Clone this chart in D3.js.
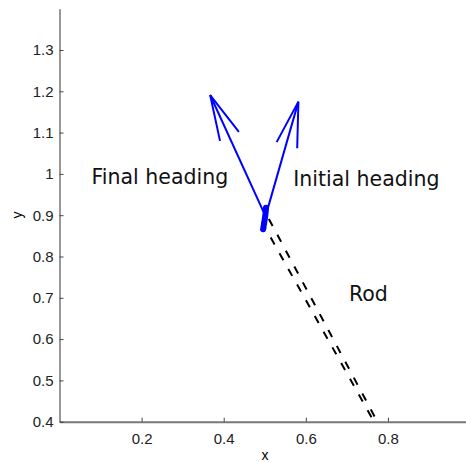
<!DOCTYPE html>
<html>
<head>
<meta charset="utf-8">
<script src="https://cdn.jsdelivr.net/npm/d3@7"></script>
<style>
  body { margin: 0; background: #fff; }
  svg { display: block; }
  .tick text { font-family: "Liberation Sans", Arial, sans-serif; font-size: 15px; fill: #222; }
  .note { font-family: "DejaVu Sans", sans-serif; font-size: 20.5px; fill: #111; }
</style>
</head>
<body>
<svg width="466" height="462"></svg>
<script>
// rod edges (two dashed lines), in data units
var rodLeft = [[0.493, 0.884], [0.768, 0.397]];
var rodRight = [[0.510, 0.891], [0.776, 0.397]];

// trace of the rod tip
var tipTrace = [[0.503, 0.918], [0.502, 0.905], [0.500, 0.890], [0.497, 0.872], [0.496, 0.866]];

// heading arrows: shaft then barbs
var finalShaft = [[0.497, 0.908], [0.367, 1.191]];
var finalBarbs = [[0.391, 1.080], [0.367, 1.191], [0.437, 1.102]];
var initialShaft = [[0.505, 0.908], [0.582, 1.175]];
var initialBarbs = [[0.529, 1.077], [0.582, 1.175], [0.579, 1.062]];

var notes = [
  { text: "Final heading", x: 0.078, y: 0.9755 },
  { text: "Initial heading", x: 0.5696, y: 0.9707 },
  { text: "Rod", x: 0.705, y: 0.693 }
];

var xTicks = [0.2, 0.4, 0.6, 0.8];
var yTicks = [0.4, 0.5, 0.6, 0.7, 0.8, 0.9, 1, 1.1, 1.2, 1.3];

var svg = d3.select("svg");

var x = d3.scaleLinear().domain([0, 1]).range([59.5, 470]);
var y = d3.scaleLinear().domain([0.4, 1.4]).range([421.7, 8.7]);

var line = d3.line().x(function(d) { return x(d[0]) }).y(function(d) { return y(d[1]) });

svg.append("clipPath").attr("id", "plot")
  .append("rect")
  .attr("x", x(0)).attr("y", y(1.4))
  .attr("width", x(1) - x(0)).attr("height", y(0.4) - y(1.4));

var g = svg.append("g").attr("clip-path", "url(#plot)");

[rodLeft, rodRight].forEach(function(r) {
  g.append("path").datum(r)
    .attr("d", line)
    .attr("fill", "none")
    .attr("stroke", "#000")
    .attr("stroke-width", 2)
    .attr("stroke-dasharray", "8,10");
});

g.append("path").datum(tipTrace)
  .attr("d", line)
  .attr("fill", "none")
  .attr("stroke", "#0000ff")
  .attr("stroke-width", 6)
  .attr("stroke-linecap", "round");

[finalShaft, finalBarbs, initialShaft, initialBarbs].forEach(function(p) {
  g.append("path").datum(p)
    .attr("d", line)
    .attr("fill", "none")
    .attr("stroke", "#0000ff")
    .attr("stroke-width", 2);
});

svg.selectAll(".note").data(notes).enter()
  .append("text")
  .attr("class", "note")
  .attr("x", function(d) { return x(d.x) })
  .attr("y", function(d) { return y(d.y) })
  .text(function(d) { return d.text });

// axes, matlab style: ticks inside, no box
var xAxis = svg.append("g")
  .attr("transform", "translate(0," + y(0.4) + ")")
  .call(d3.axisBottom(x).tickValues(xTicks).tickSizeInner(-4).tickSizeOuter(0).tickPadding(12)
    .tickFormat(d3.format("")));
xAxis.select(".domain").attr("stroke", "#777").attr("stroke-width", 2);
xAxis.selectAll(".tick line").attr("stroke", "#444");

var yAxis = svg.append("g")
  .attr("transform", "translate(" + x(0) + ",0)")
  .call(d3.axisLeft(y).tickValues(yTicks).tickSizeInner(-4).tickSizeOuter(0).tickPadding(6)
    .tickFormat(d3.format("")));
yAxis.select(".domain").attr("stroke", "#333").attr("stroke-width", 1);
yAxis.selectAll(".tick line").attr("stroke", "#444");

svg.append("text")
  .attr("x", 265).attr("y", 460)
  .attr("text-anchor", "middle")
  .style("font-family", "Liberation Sans, Arial, sans-serif")
  .style("font-size", "14px")
  .text("x");

svg.append("text")
  .attr("transform", "translate(22,215) rotate(-90)")
  .attr("text-anchor", "middle")
  .style("font-family", "Liberation Sans, Arial, sans-serif")
  .style("font-size", "14px")
  .text("y");
</script>
</body>
</html>
